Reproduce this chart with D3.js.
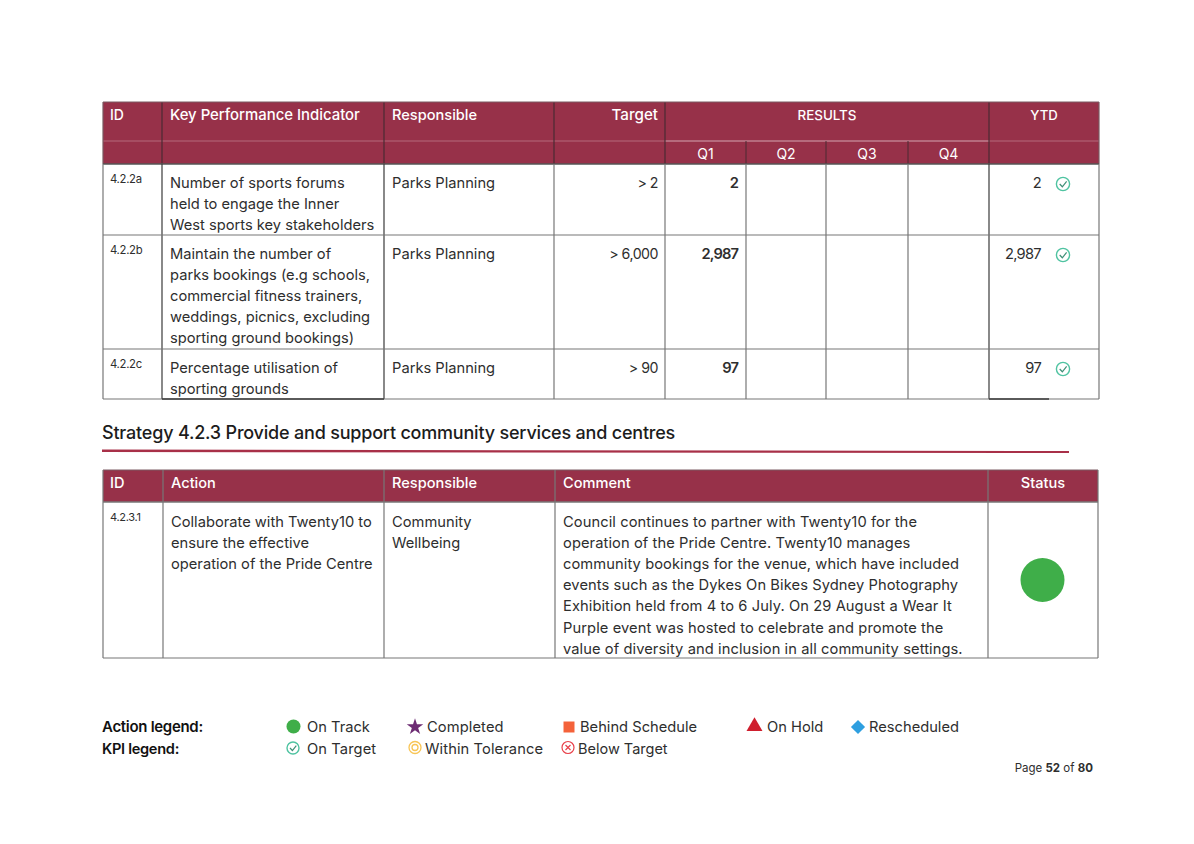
<!DOCTYPE html>
<html><head><meta charset="utf-8">
<script src="https://cdn.jsdelivr.net/npm/d3@7"></script>
<style>html,body{margin:0;background:#fff}svg{display:block}text{font-family:Inter,"Noto Sans",sans-serif}</style>
</head><body><svg id="c" width="1194" height="844"></svg>
<script>
// ---------- data ----------
const kpiHeaders = ["ID","Key Performance Indicator","Responsible","Target","RESULTS","YTD"];
const quarters = ["Q1","Q2","Q3","Q4"];
const kpiIds = ["4.2.2a","4.2.2b","4.2.2c"];
const kpiNames = [
 ["Number of sports forums","held to engage the Inner","West sports key stakeholders"],
 ["Maintain the number of","parks bookings (e.g schools,","commercial fitness trainers,","weddings, picnics, excluding","sporting ground bookings)"],
 ["Percentage utilisation of","sporting grounds"]];
const kpiResponsible = ["Parks Planning","Parks Planning","Parks Planning"];
const kpiTargets = ["> 2","> 6,000","> 90"];
const kpiQ1 = ["2","2,987","97"];
const kpiYtd = ["2","2,987","97"];
const strategyTitle = "Strategy 4.2.3 Provide and support community services and centres";
const actionHeaders = ["ID","Action","Responsible","Comment","Status"];
const actionId = "4.2.3.1";
const actionName = ["Collaborate with Twenty10 to","ensure the effective","operation of the Pride Centre"];
const actionResponsible = ["Community","Wellbeing"];
const actionComment = ["Council continues to partner with Twenty10 for the",
 "operation of the Pride Centre. Twenty10 manages",
 "community bookings for the venue, which have included",
 "events such as the Dykes On Bikes Sydney Photography",
 "Exhibition held from 4 to 6 July. On 29 August a Wear It",
 "Purple event was hosted to celebrate and promote the",
 "value of diversity and inclusion in all community settings."];
const actionLegend = ["On Track","Completed","Behind Schedule","On Hold","Rescheduled"];
const kpiLegend = ["On Target","Within Tolerance","Below Target"];

// ---------- layout ----------
const svg = d3.select("#c");
const MAROON="#973149", INK="#2e2e2e", GRID="#777", DARK="#3a3a3a", GREEN="#3fae49", TEAL="#4fc3a1";
const kx=[103,162,384,554,665,746,826,908,989,1099];
const ky=[102,141,164,235,349,399];
const ax=[103,163,384,555,988,1098];
const ay=[470,502,658];
const FS=14.7, LH=21.2;
function txt(x,y,s,o={}){return svg.append("text").attr("x",x).attr("y",y).text(s)
 .attr("font-size",o.size||FS).attr("fill",o.fill||INK).attr("font-weight",o.weight||400)
 .attr("text-anchor",o.anchor||"start").attr("letter-spacing",o.ls||0);}
function line(x1,y1,x2,y2,c=GRID,w=1.2){svg.append("line").attr("x1",x1).attr("y1",y1).attr("x2",x2).attr("y2",y2).attr("stroke",c).attr("stroke-width",w);}
function rect(x,y,w,h,f){svg.append("rect").attr("x",x).attr("y",y).attr("width",w).attr("height",h).attr("fill",f);}
function check(cx,cy,r=6.6){
 svg.append("circle").attr("cx",cx).attr("cy",cy).attr("r",r).attr("fill","none").attr("stroke",TEAL).attr("stroke-width",1.4);
 svg.append("path").attr("d",d3.line()([[cx-r*.5,cy],[cx-r*.1,cy+r*.42],[cx+r*.55,cy-r*.4]])).attr("fill","none").attr("stroke","#3f8f77").attr("stroke-width",1.2);
}
const sym=(t,s,x,y,f)=>svg.append("path").attr("d",d3.symbol(t,s)()).attr("transform",`translate(${x},${y})`).attr("fill",f);

// KPI table
rect(kx[0],ky[0],kx[9]-kx[0],ky[2]-ky[0],MAROON);
line(kx[0],ky[1],kx[9],ky[1],"#b56a7c",1);
line(kx[4],ky[1],kx[8],ky[1],"#c58a98",1);
[1,2,3,4,8].forEach(i=>line(kx[i],ky[0],kx[i],ky[2],"#4a2a33",1.2));
[0,9].forEach(i=>line(kx[i],ky[0],kx[i],ky[2],"#7a5a62",1.2));
[5,6,7].forEach(i=>line(kx[i],ky[1],kx[i],ky[2],"#4a2a33",1));
line(kx[0],ky[0],kx[9],ky[0],"#7a5a62",1);
line(kx[0],ky[2],kx[9],ky[2],"#555",1.6);
kx.forEach((x,i)=>line(x,ky[2],x,ky[5],(i===1||i===2||i===8)?DARK:GRID));
ky.slice(3).forEach(y=>line(kx[0],y,kx[9],y));
line(kx[1],ky[5],kx[2],ky[5],DARK,1.3);
line(kx[8],ky[5],1049,ky[5],DARK,1.3);
const hw=500;
txt(110,119.5,kpiHeaders[0],{fill:"#fff",weight:hw,size:14});
txt(170,119.5,kpiHeaders[1],{fill:"#fff",weight:hw,size:14.9});
txt(392,119.5,kpiHeaders[2],{fill:"#fff",weight:hw,size:14.6});
txt(658,119.5,kpiHeaders[3],{fill:"#fff",weight:hw,size:15.2,anchor:"end"});
txt(827,119.5,kpiHeaders[4],{fill:"#fff",weight:hw,size:13.4,anchor:"middle"});
txt(1044,119.5,kpiHeaders[5],{fill:"#fff",weight:hw,size:13.2,anchor:"middle"});
quarters.forEach((q,i)=>txt((kx[4+i]+kx[5+i])/2,158.5,q,{fill:"#fff",size:14,anchor:"middle"}));
const rowTop=[ky[2],ky[3],ky[4]];
kpiIds.forEach((id,i)=>{
 const b=rowTop[i]+23.5;
 txt(110,b-4.5,id,{size:11.3,ls:-.3});
 kpiNames[i].forEach((s,j)=>txt(170,b+j*LH,s));
 txt(392,b,kpiResponsible[i]);
 txt(658,b,kpiTargets[i],{anchor:"end",ls:-.5,size:14.2});
 txt(738,b,kpiQ1[i],{anchor:"end",weight:600,ls:-.9});
 txt(1041,b,kpiYtd[i],{anchor:"end",ls:-.7});
 check(1063,b-3.5);
});

// heading
txt(102,439,strategyTitle,{size:18,weight:500,fill:"#1c1c1c",ls:-.2});
svg.append("path").attr("d","M102,449.5L1069,451L1069,453L102,452Z").attr("fill","#a83048");

// action table
rect(ax[0],ay[0],ax[5]-ax[0],ay[1]-ay[0],MAROON);
line(ax[0],ay[0],ax[5],ay[0],"#7a5a62",1);
line(ax[0],ay[1],ax[5],ay[1],"#777",1.4);
ax.forEach(x=>line(x,ay[0],x,ay[2]));
line(ax[0],ay[2],ax[5],ay[2]);
[0,1,2,3].forEach(i=>txt(ax[i]+(i?8:7),487.5,actionHeaders[i],{fill:"#fff",weight:hw,size:14.6}));
txt(1043,487.5,actionHeaders[4],{fill:"#fff",weight:hw,size:14.6,anchor:"middle"});
txt(110,521,actionId,{size:11,ls:-.3});
actionName.forEach((s,j)=>txt(171,526.5+j*LH,s));
actionResponsible.forEach((s,j)=>txt(392,526.5+j*LH,s));
actionComment.forEach((s,j)=>txt(563,526.5+j*LH,s,{ls:.08}));
svg.append("circle").attr("cx",1042.5).attr("cy",580).attr("r",22).attr("fill",GREEN);

// legends
txt(102,732,"Action legend:",{weight:600,fill:"#111",size:15,ls:-.3});
txt(102,753.5,"KPI legend:",{weight:600,fill:"#111",size:14.6,ls:-.3});
svg.append("circle").attr("cx",293.5).attr("cy",726.5).attr("r",7).attr("fill",GREEN);
txt(307,732,actionLegend[0]);
sym(d3.symbolStar,85,415,727,"#6d2c73");
txt(427,732,actionLegend[1],{ls:.1});
sym(d3.symbolSquare,121,569,727,"#f4623a");
txt(580,732,actionLegend[2]);
sym(d3.symbolTriangle,110,754.5,726.5,"#cf1f2e");
txt(767,732,actionLegend[3]);
sym(d3.symbolSquare,100,858,727,"#2e9fe0").attr("transform","translate(858,727) rotate(45)");
txt(869,732,actionLegend[4]);
check(293,748,6);
txt(307,753.5,kpiLegend[0],{ls:.1});
[6,3].forEach(r=>svg.append("circle").attr("cx",415).attr("cy",747.5).attr("r",r).attr("fill","none").attr("stroke","#f8c555").attr("stroke-width",1.3));
txt(425,753.5,kpiLegend[1],{ls:.1});
svg.append("circle").attr("cx",568).attr("cy",747.5).attr("r",6).attr("fill","none").attr("stroke","#e8404a").attr("stroke-width",1.2);
svg.append("path").attr("d","M565.5,745L570.5,750M570.5,745L565.5,750").attr("stroke","#e8404a").attr("stroke-width",1.2);
txt(578,753.5,kpiLegend[2],{size:14.5});
// page number
const p=txt(1093,772,"",{size:11.5,anchor:"end"});
p.append("tspan").text("Page ");p.append("tspan").text("52").attr("font-weight",700);
p.append("tspan").text(" of ");p.append("tspan").text("80").attr("font-weight",700);
</script></body></html>
